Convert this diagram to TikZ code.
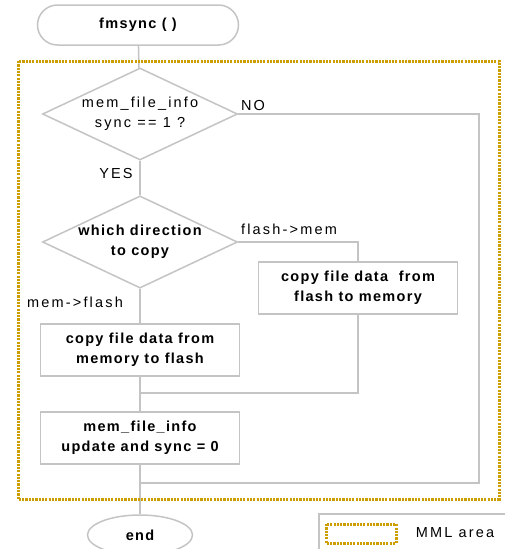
\documentclass[tikz,border=0pt]{standalone}
\usepackage{fontspec}
\setmainfont{Liberation Sans}[LetterSpace=15]
\newfontfamily\boldface{Liberation Sans}[LetterSpace=9]
\usetikzlibrary{shapes.geometric}
\definecolor{mmlgold}{RGB}{204,158,0}
\definecolor{flowgray}{RGB}{196,196,196}

\def\boxw{199pt}

\begin{document}
\begin{tikzpicture}[x=1pt,y=-1pt,
  every node/.style={font=\fontsize{14.5}{20}\selectfont,align=center},
  boldtext/.style={font=\fontsize{14.5}{20}\selectfont\boldface\bfseries},
  flowline/.style={draw=flowgray,line width=1.5pt},
  procbox/.style={flowline,rectangle,fill=white,minimum width=\boxw,minimum height=52pt,boldtext},
  decision/.style={flowline,diamond,fill=white,shape aspect=2.1,inner sep=0pt,
    minimum width=195pt,minimum height=92pt},
  mmlarea/.style={draw=mmlgold,line width=3pt,dash pattern=on 2.2pt off 1.1pt}]
\useasboundingbox (0,0) rectangle (504,549);

\node[flowline,rectangle,rounded corners=20pt,minimum width=201pt,minimum height=40pt,
  boldtext] (start) at (138,25) {fmsync ( )};
\node[decision] (synccheck) at (140,114) {mem\_file\_info\\sync == 1 ?};
\node[decision,boldtext] (direction) at (140,242) {which direction\\to copy};
\node[procbox] (flashtomem) at (358,288) {copy file data\ \ from\\flash to memory};
\node[procbox] (memtoflash) at (140,350) {copy file data from\\memory to flash};
\node[procbox] (update) at (140,438) {mem\_file\_info\\update and sync = 0};
\node[flowline,ellipse,minimum width=105pt,minimum height=40pt,boldtext] (finish)
  at (140,535) {end};

\coordinate (joinup) at (140,393);
\coordinate (nocorner) at (479,483);
\coordinate (joinno) at (140,483);

% labels
\node (nolabel) at (253,106) {NO};
\node (yeslabel) at (116,174) {YES};
\node (flashmem) at (289,229) {flash->mem};
\node (memflash) at (75,302) {mem->flash};

% connectors
\draw[flowline] (start) -- (synccheck);
\draw[flowline] (synccheck) -- (direction);
\draw[flowline] (direction) -- (memtoflash);
\draw[flowline] (direction.east) -| (flashtomem.north);
\draw[flowline] (flashtomem.south) |- (joinup);
\draw[flowline] (memtoflash) -- (update);
\draw[flowline] (synccheck.east) -| (nocorner) -- (joinno);
\draw[flowline] (update) -- (finish);

% MML area
\draw[mmlarea] (18,61) rectangle (499,499);

% legend
\draw[flowline] (319,514) rectangle (530,570);
\draw[mmlarea] (326,524) rectangle (396,543);
\node (legendtext) at (455,533) {MML area};
\end{tikzpicture}
\end{document}
